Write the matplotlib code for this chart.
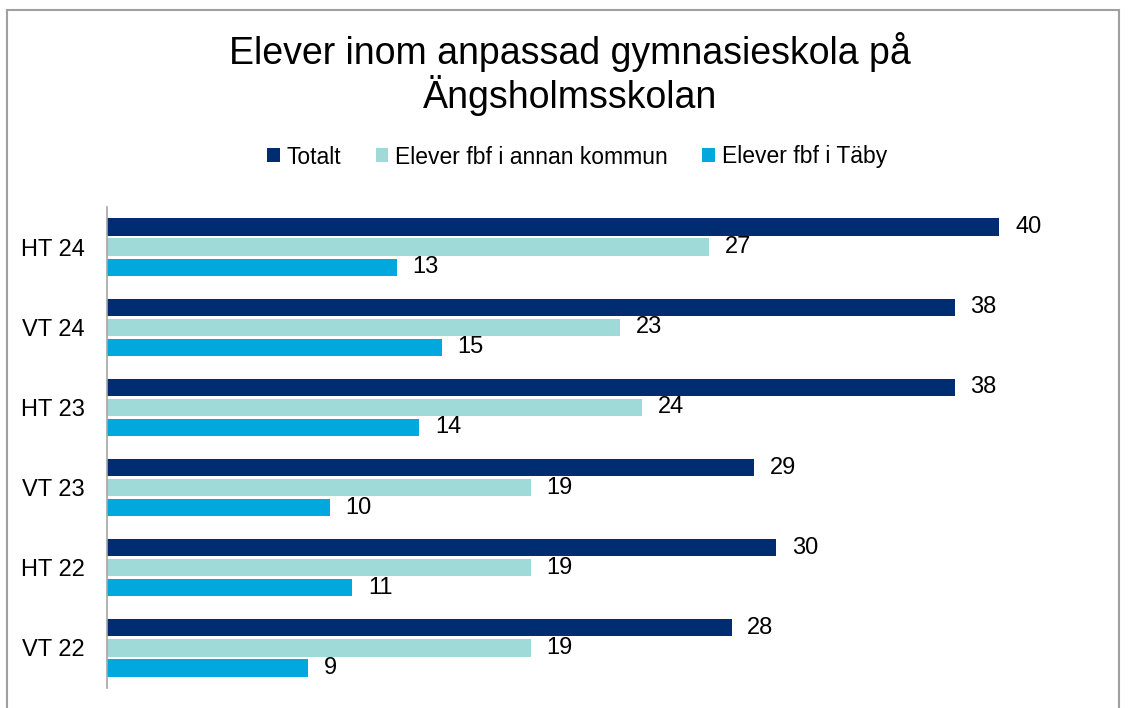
import matplotlib

matplotlib.use("Agg")
import matplotlib.pyplot as plt
import numpy as np
from matplotlib.patches import Rectangle

plt.rcParams["font.family"] = ["Liberation Sans", "DejaVu Sans"]

categories = ["VT 22", "HT 22", "VT 23", "HT 23", "VT 24", "HT 24"]
totalt = [28, 30, 29, 38, 38, 40]
annan_kommun = [19, 19, 19, 24, 23, 27]
taby = [9, 11, 10, 14, 15, 13]

series = [
    ("Totalt", totalt, "#002D72", 0.25),
    ("Elever fbf i annan kommun", annan_kommun, "#9FDAD9", 0.0),
    ("Elever fbf i Täby", taby, "#00A8DE", -0.25),
]

W, H = 1129, 708
fig = plt.figure(figsize=(W / 100, H / 100), dpi=100)
ax = fig.add_axes([107 / W, 1 - 688 / H, (1111 - 107) / W, (688 - 207) / H])

y = np.arange(len(categories))
handles = []
for name, vals, color, off in series:
    bars = ax.barh(y + off, vals, height=0.215, color=color, label=name)
    handles.append(bars)
    for b, v in zip(bars, vals):
        ax.text(v + 0.7, b.get_y() + b.get_height() / 2, str(v),
                va="center", ha="left", fontsize=17)

ax.set_xlim(0, 45)
ax.set_ylim(-0.5, len(categories) - 0.5)
ax.set_yticks(y)
ax.set_yticklabels(categories, fontsize=17)
ax.tick_params(axis="y", length=0, pad=16)
ax.set_xticks([])
for s in ["top", "right", "bottom"]:
    ax.spines[s].set_visible(False)
ax.spines["left"].set_color("#A6A6A6")
ax.spines["left"].set_linewidth(1.2)

fig.text(570 / W, 1 - 74 / H, "Elever inom anpassad gymnasieskola på\nÄngsholmsskolan",
         ha="center", va="center", fontsize=27, linespacing=1.1)

fig.legend(handles=handles, loc="center", bbox_to_anchor=(577 / W, 1 - 157 / H),
           ncol=3, frameon=False, fontsize=16.5, handlelength=0.55, handleheight=0.55,
           handletextpad=0.3, columnspacing=1.5)

fig.patches.append(Rectangle((7 / W, -0.1), (1119 - 7) / W, 1.1 - 10 / H,
                             transform=fig.transFigure, fill=False,
                             edgecolor="#A0A0A0", linewidth=1.5))

fig.savefig("out.png", dpi=100)
